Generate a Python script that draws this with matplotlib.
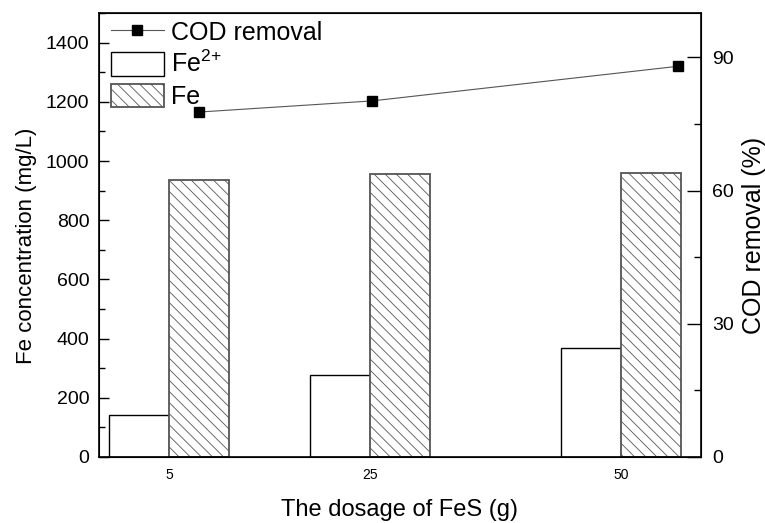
import matplotlib
matplotlib.use('Agg')
import matplotlib.pyplot as plt
from matplotlib.ticker import MultipleLocator

plt.rcParams['font.family'] = ['Liberation Sans', 'DejaVu Sans']
plt.rcParams['mathtext.fontset'] = 'custom'
plt.rcParams['mathtext.rm'] = 'Liberation Sans'
plt.rcParams['hatch.linewidth'] = 0.6
plt.rcParams['hatch.color'] = '#333333'

# data
dosage = [5, 25, 50]
fe2_conc = [141, 278, 367]
fe_conc = [936, 955, 960]
cod_x = [8, 25.2, 55.7]
cod_removal = [77.7, 80.2, 88.0]

fig = plt.figure(figsize=(7.65, 5.23), dpi=100)
ax = fig.add_axes([0.1294, 0.1262, 0.7869, 0.8489])

ax.bar(dosage, fe2_conc, width=-6, align='edge', facecolor='white',
       edgecolor='black', linewidth=1.0, label='Fe$^{2{+}}$')
ax.bar(dosage, fe_conc, width=6, align='edge', facecolor='white',
       edgecolor='#555555', linewidth=1.3, hatch='\\\\\\', label='Fe')

ax.set_xlim(-2, 58)
ax.set_ylim(0, 1500)
ax.set_xticks(dosage)
ax.set_xticklabels([str(d) for d in dosage], fontsize=10,
                   family=['Liberation Sans Narrow', 'Liberation Sans'])
ax.tick_params(axis='x', length=0, pad=8)
ax.yaxis.set_major_locator(MultipleLocator(200))
ax.yaxis.set_minor_locator(MultipleLocator(100))
ax.tick_params(axis='y', which='major', direction='in', length=7, width=1,
               labelsize=14, pad=7)
ax.tick_params(axis='y', which='minor', direction='in', length=4, width=1)
ax.set_ylabel('Fe concentration (mg/L)', fontsize=16)
ax.yaxis.set_label_coords(-0.103, 0.475)
ax.set_xlabel('The dosage of FeS (g)', fontsize=17, labelpad=12)
for s in ax.spines.values():
    s.set_linewidth(1.2)

ax2 = ax.twinx()
ax2.plot(cod_x, cod_removal, color='#555555', linewidth=0.8, marker='s',
         markersize=7, markerfacecolor='black', markeredgecolor='black',
         label='COD removal')
ax2.set_ylim(0, 100)
ax2.yaxis.set_major_locator(MultipleLocator(30))
ax2.yaxis.set_minor_locator(MultipleLocator(15))
ax2.tick_params(axis='y', which='major', direction='in', length=10, width=1,
                labelsize=14, pad=8)
ax2.tick_params(axis='y', which='minor', direction='in', length=5, width=1)
ax2.set_ylabel('COD removal (%)', fontsize=18, labelpad=6)

h1, l1 = ax.get_legend_handles_labels()
h2, l2 = ax2.get_legend_handles_labels()
ax2.legend(h2 + h1, l2 + l1, loc='upper left', frameon=False, fontsize=18,
           handlelength=2.1, handleheight=1.05, borderaxespad=0, borderpad=0,
           bbox_to_anchor=(0.02, 0.985),
           labelspacing=0.25, handletextpad=0.3)

fig.savefig('out.png', dpi=100)
